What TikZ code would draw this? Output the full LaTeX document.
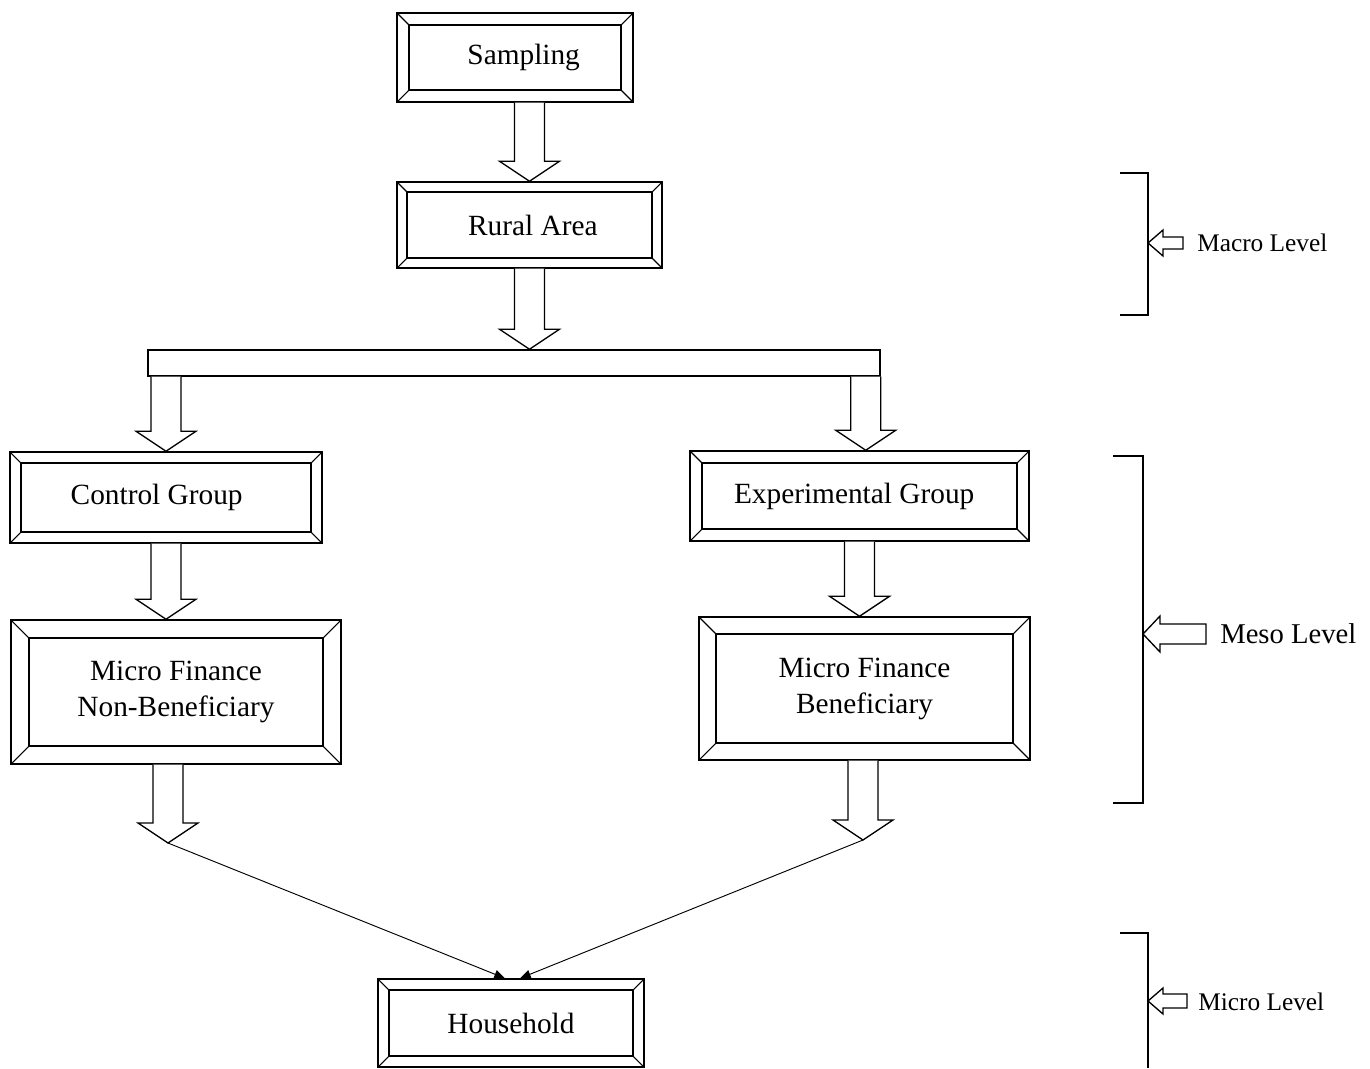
\documentclass[tikz,border=0pt]{standalone}
\usepackage{fontspec}
\setmainfont{Liberation Serif}
\usetikzlibrary{calc,arrows.meta}
\newcommand\boxfont{\fontsize{22}{27}\selectfont}
\newcommand\blockdown[3]{%
  \draw[blk] let \p1=(#1), \p2=(#2), \p3=(#3) in
    (\x1-11.25pt,\y2) -- (\x1-11.25pt,\y3+15pt) -- (\x1-22.5pt,\y3+15pt) -- (\x1,\y3)
    -- (\x1+22.5pt,\y3+15pt) -- (\x1+11.25pt,\y3+15pt) -- (\x1+11.25pt,\y2);}
\newcommand\blockleft[5]{%
  \draw[blk] let \p1=(#1), \p2=(#2) in
    (\x1,\y2+#3) -- (\x2+#5,\y2+#3) -- (\x2+#5,\y2+#4) -- (\x2,\y2)
    -- (\x2+#5,\y2-#4) -- (\x2+#5,\y2-#3) -- (\x1,\y2-#3) -- cycle;}
\tikzset{
  bev/.style={draw, line width=1.1pt, fill=white, align=center, font=\boxfont, inner sep=0pt,
    path picture={
      \draw[line width=1.1pt] ([shift={(#1,#1)}]path picture bounding box.north west)
        rectangle ([shift={(-#1,-#1)}]path picture bounding box.south east);
      \draw[line width=0.8pt] (path picture bounding box.north west) -- ++(#1,#1)
        (path picture bounding box.north east) -- ++(-#1,#1)
        (path picture bounding box.south west) -- ++(#1,-#1)
        (path picture bounding box.south east) -- ++(-#1,-#1);
    }},
  blk/.style={draw, line width=1pt, fill=white, line join=miter},
  brk/.style={draw, line width=1.1pt},
  lvl/.style={anchor=west, inner sep=0pt, font=\fontsize{19}{23}\selectfont},
  conn/.style={draw, line width=0.7pt, -{Triangle[length=8pt,width=6.5pt]}}
}
\begin{document}
\begin{tikzpicture}[x=0.75pt,y=-0.75pt]
\useasboundingbox (0,0) rectangle (1370,1068);
% boxes
\node[bev=12, minimum width=177pt, minimum height=66.75pt] (samp) at (515,57.5) {\hspace*{13pt}Sampling};
\node[bev=10, minimum width=198.75pt, minimum height=64.5pt] (rural) at (529.5,225) {\hspace*{5pt}Rural Area};
\node[draw, line width=1.1pt, minimum width=549pt, minimum height=19.5pt, inner sep=0pt] (bar) at (514,363) {};
\node[bev=11, minimum width=234pt, minimum height=68.25pt] (ctrl) at (166,497.5) {Control Group\hspace*{14pt}};
\node[bev=12, minimum width=254.25pt, minimum height=67.5pt] (exp) at (859.5,496) {Experimental Group\hspace*{8pt}};
\node[bev=18, minimum width=247.5pt, minimum height=108pt] (mfn) at (176,692) {Micro Finance\\Non-Beneficiary};
\node[bev=17, minimum width=248.25pt, minimum height=107.25pt] (mfb) at (864.5,688.5) {Micro Finance\\Beneficiary};
\node[bev=11, minimum width=199.5pt, minimum height=66pt] (hh) at (511,1023) {Household};
% block arrows
\coordinate (rx) at ([xshift=-11.25pt]bar.south east);
\coordinate (t1) at (168,843);
\coordinate (t2) at (863,840);
\blockdown{rural.north}{samp.south}{rural.north}
\blockdown{rural.south}{rural.south}{bar.north}
\blockdown{ctrl.north}{bar.south}{ctrl.north}
\blockdown{rx}{bar.south}{exp.north}
\blockdown{ctrl.south}{ctrl.south}{mfn.north}
\blockdown{exp.south}{exp.south}{mfb.north}
\blockdown{t1}{mfn.south}{t1}
\blockdown{t2}{mfb.south}{t2}
% connectors to household
\draw[conn] (t1) -- ([xshift=-4.5pt]hh.north);
\draw[conn] (t2) -- ([xshift=6.75pt]hh.north);
% brackets
\coordinate (mac) at (1148,243);
\coordinate (mes) at (1143,634);
\coordinate (mic) at (1148,1001);
\draw[brk] (1120,173) -- (1148,173) -- (1148,315) -- (1120,315);
\draw[brk] (1113,456) -- (1143,456) -- (1143,803) -- (1113,803);
\draw[brk] (1120,933) -- (1148,933) -- (1148,1068);
% level labels
\node[lvl] (macl) at (1197,243) {Macro Level};
\node[lvl, font=\fontsize{21.5}{26}\selectfont] (mesl) at (1220,634) {Meso Level};
\node[lvl] (micl) at (1198,1002) {Micro Level};
\blockleft{[xshift=-10.5pt]macl.west}{mac}{4.5pt}{9.75pt}{11.25pt}
\blockleft{[xshift=-10.5pt]mesl.west}{mes}{7.5pt}{13.5pt}{12.75pt}
\blockleft{[xshift=-8.25pt]micl.west}{mic}{5.25pt}{9.75pt}{11.25pt}
\end{tikzpicture}
\end{document}
